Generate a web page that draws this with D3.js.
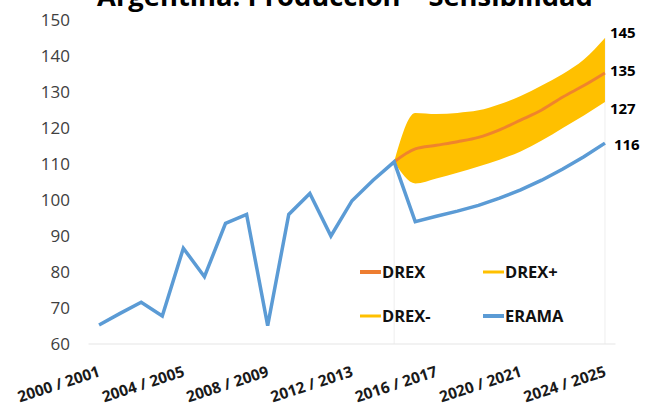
<!DOCTYPE html>
<html>
<head>
<meta charset="utf-8">
<script src="https://cdn.jsdelivr.net/npm/d3@7"></script>
<style>
  html, body { margin: 0; padding: 0; background: #fff; }
  #chart { width: 650px; height: 408px; overflow: hidden; }
  text { font-family: "Open Sans", "Liberation Sans", sans-serif; }
</style>
</head>
<body>
<div id="chart"></div>
<script>
// seasons 2000/2001 .. 2024/2025
var seasons = [];
for (var yr = 2000; yr <= 2024; yr++) { seasons.push(yr + " / " + (yr + 1)); }
var tickSeasons = ["2000 / 2001", "2004 / 2005", "2008 / 2009", "2012 / 2013",
                   "2016 / 2017", "2020 / 2021", "2024 / 2025"];
var yTicks = [60, 70, 80, 90, 100, 110, 120, 130, 140, 150];

// historic + ERAMA projection
var erama = [65.3, 68.5, 71.6, 67.8, 86.6, 78.7, 93.5, 96.0, 65.1, 96.0,
             101.8, 90.0, 99.8, 105.5, 110.6, 94.0, 95.5, 96.9, 98.5, 100.5,
             102.8, 105.5, 108.6, 112.0, 115.8];
// DREX scenarios, start at 2014/2015
var drex      = [null, null, null, null, null, null, null, null, null, null, null, null, null, null,
                 110.6, 114.2, 115.2, 116.2, 117.4, 119.5, 122.2, 125.0, 128.6, 131.8, 135.3];
var drexPlus  = [null, null, null, null, null, null, null, null, null, null, null, null, null, null,
                 110.6, 124.2, 123.9, 124.2, 124.9, 126.6, 128.9, 131.8, 135.0, 139.0, 145.0];
var drexMinus = [null, null, null, null, null, null, null, null, null, null, null, null, null, null,
                 110.6, 104.6, 106.0, 107.6, 109.3, 111.2, 113.5, 116.5, 120.0, 123.5, 127.2];

var W = 650, H = 408;
var svg = d3.select("#chart").append("svg").attr("width", W).attr("height", H);

var x = d3.scalePoint().domain(seasons).range([88.5, 615.5]).padding(0.5);
var y = d3.scaleLinear().domain([60, 150]).range([344, 20]);

// title (cut by the top edge in the original)
var title = svg.append("text")
    .attr("x", 345).attr("y", 6)
    .attr("text-anchor", "middle")
    .attr("font-weight", "bold")
    .attr("font-size", 24)
    .attr("fill", "#000")
    .text("Argentina: Producción – Sensibilidad");
var tl = title.node().getComputedTextLength();
title.attr("font-size", 24 * 496 / tl);

// faint drop lines at 2014/2015 and 2024/2025
[14, 24].forEach(function (i) {
    svg.append("line")
        .attr("x1", x(seasons[i])).attr("x2", x(seasons[i]))
        .attr("y1", y(Math.max(erama[i], drexPlus[i]))).attr("y2", y(60))
        .attr("stroke", "#eeeeee").attr("stroke-width", 1);
});

// x axis baseline
svg.append("line")
    .attr("x1", 88.5).attr("x2", 615.5)
    .attr("y1", y(60)).attr("y2", y(60))
    .attr("stroke", "#e6e6e6").attr("stroke-width", 1.2);

// y axis labels
var yAxis = d3.axisLeft(y).tickValues(yTicks).tickSize(0).tickPadding(0);
var gy = svg.append("g").attr("transform", "translate(70,0)").call(yAxis);
gy.select(".domain").remove();
gy.selectAll("text")
    .attr("font-family", "Open Sans")
    .attr("font-size", 17)
    .attr("fill", "#404040");

// x axis labels (rotated)
svg.append("g").selectAll("text")
    .data(tickSeasons)
    .enter().append("text")
    .attr("transform", function (d) { return "translate(" + (x(d) + 2) + ",376) rotate(-18)"; })
    .attr("text-anchor", "end")
    .attr("font-weight", "bold")
    .attr("font-size", 15.5)
    .attr("fill", "#1a1a1a")
    .text(function (d) { return d; });

// band DREX- .. DREX+
var idx = d3.range(seasons.length);
var band = d3.area()
    .defined(function (i) { return drexPlus[i] != null; })
    .x(function (i) { return x(seasons[i]); })
    .y0(function (i) { return y(drexMinus[i]); })
    .y1(function (i) { return y(drexPlus[i]); })
    .curve(d3.curveMonotoneX);
svg.append("path").attr("d", band(idx)).attr("fill", "#FFC000");

function lineOf(arr) {
    return d3.line()
        .defined(function (i) { return arr[i] != null; })
        .x(function (i) { return x(seasons[i]); })
        .y(function (i) { return y(arr[i]); })
        .curve(d3.curveMonotoneX);
}

svg.append("path").attr("d", lineOf(drex)(idx))
    .attr("fill", "none").attr("stroke", "#ED7D31").attr("stroke-width", 3)
    .attr("stroke-opacity", 0.9);

svg.append("path").attr("d", d3.line()
        .x(function (i) { return x(seasons[i]); })
        .y(function (i) { return y(erama[i]); })(idx))
    .attr("fill", "none").attr("stroke", "#5B9BD5").attr("stroke-width", 3.5)
    .attr("stroke-linejoin", "miter");

// end value labels
var endLabels = [
    { arr: drexPlus, dx: 5, dy: -5 },
    { arr: drex, dx: 5, dy: -2 },
    { arr: drexMinus, dx: 5, dy: 7 },
    { arr: erama, dx: 9, dy: 2 }
];
var last = seasons.length - 1;
endLabels.forEach(function (l) {
    svg.append("text")
        .attr("x", x(seasons[last]) + l.dx)
        .attr("y", y(l.arr[last]) + l.dy)
        .attr("dy", "0.35em")
        .attr("font-weight", "bold")
        .attr("font-size", 15)
        .attr("fill", "#000")
        .text(d3.format(".0f")(l.arr[last]));
});

// legend
var legend = [
    { name: "DREX", color: "#ED7D31", w: 4, x: 360, y: 272 },
    { name: "DREX+", color: "#FFC000", w: 3, x: 483, y: 272 },
    { name: "DREX-", color: "#FFC000", w: 3, x: 360, y: 316 },
    { name: "ERAMA", color: "#5B9BD5", w: 4, x: 483, y: 316 }
];
var lg = svg.append("g").selectAll("g").data(legend).enter().append("g")
    .attr("transform", function (d) { return "translate(" + d.x + "," + d.y + ")"; });
lg.append("line")
    .attr("x1", 0).attr("x2", 21).attr("y1", 0).attr("y2", 0)
    .attr("stroke", function (d) { return d.color; })
    .attr("stroke-width", function (d) { return d.w; });
lg.append("text")
    .attr("x", 22).attr("dy", "0.36em")
    .attr("font-weight", "bold").attr("font-size", 16.5)
    .attr("fill", "#111")
    .text(function (d) { return d.name; });
</script>
</body>
</html>
